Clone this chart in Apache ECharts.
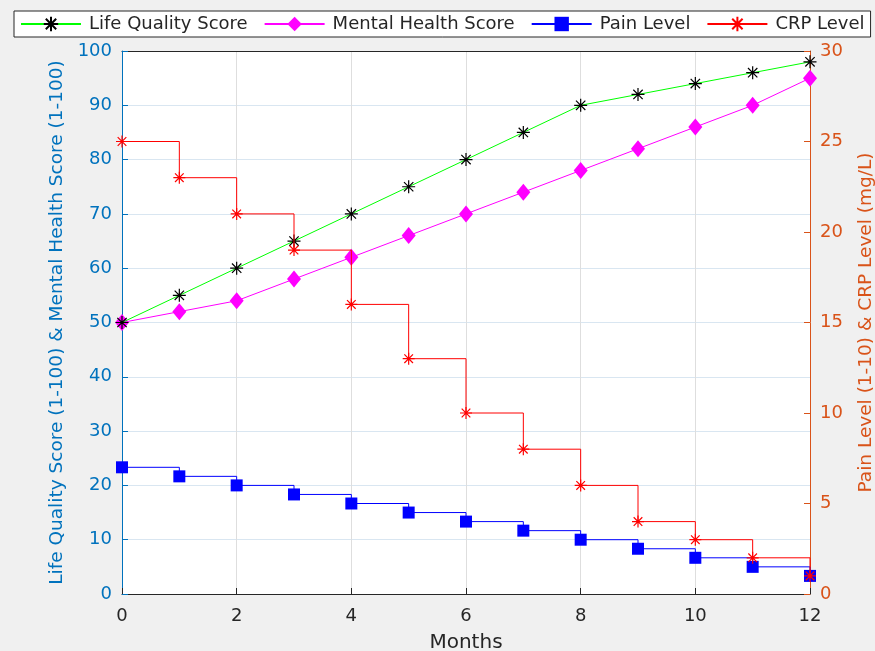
<!DOCTYPE html>
<html>
<head>
<meta charset="utf-8">
<script src="https://cdn.jsdelivr.net/npm/echarts@6/dist/echarts.min.js"></script>
<style>
html,body{margin:0;padding:0;background:#f0f0f0;}
#chart{width:875px;height:651px;}
</style>
</head>
<body>
<div id="chart"></div>
<script>
const months = [0,1,2,3,4,5,6,7,8,9,10,11,12];
const lifeQuality = [50,55,60,65,70,75,80,85,90,92,94,96,98];
const mentalHealth = [50,52,54,58,62,66,70,74,78,82,86,90,95];
const painLevel = [7,6.5,6,5.5,5,4.5,4,3.5,3,2.5,2,1.5,1];
const crpLevel = [25,23,21,19,16,13,10,8,6,4,3,2,1];
const xTicks = {min:0, max:12, interval:2};
const leftTicks = {min:0, max:100, interval:10};
const rightTicks = {min:0, max:30, interval:5};

const pair = arr => months.map((m,i)=>[m, arr[i]]);
const FONT = '"DejaVu Sans", sans-serif';
const star = 'path://M0,-10L0,10M-10,0L10,0M-7.2,-7.2L7.2,7.2M-7.2,7.2L7.2,-7.2';

const chart = echarts.init(document.getElementById('chart'), null, {renderer:'canvas'});
chart.setOption({
  backgroundColor:'#f0f0f0',
  animation:false,
  textStyle:{fontFamily:FONT},
  grid:{left:122,right:65,top:51,bottom:57,show:true,backgroundColor:'#ffffff',borderWidth:0,containLabel:false,outerBoundsMode:'none'},
  legend:{
    left:14, top:11, orient:'horizontal',
    backgroundColor:'#ffffff', borderColor:'#262626', borderWidth:1,
    padding:[4,6,4,6], itemGap:16, itemWidth:60, itemHeight:18,
    textStyle:{fontFamily:FONT, fontSize:18, color:'#262626', padding:[0,0,0,3]},
    data:['Life Quality Score','Mental Health Score','Pain Level','CRP Level']
  },
  xAxis:[{
    type:'value', min:xTicks.min, max:xTicks.max, interval:xTicks.interval,
    name:'Months', nameLocation:'middle', nameGap:39,
    nameTextStyle:{fontFamily:FONT,fontSize:20,color:'#262626'},
    axisLine:{show:true,onZero:false,lineStyle:{color:'#262626',width:1}},
    axisTick:{show:true,inside:true,length:6,lineStyle:{color:'#262626'}},
    axisLabel:{fontFamily:FONT,fontSize:18,color:'#262626',margin:13},
    splitLine:{show:true,lineStyle:{color:'#dedede',width:1}}
  },{
    type:'value', position:'top', min:xTicks.min, max:xTicks.max, interval:xTicks.interval,
    axisLine:{show:true,onZero:false,lineStyle:{color:'#262626',width:1}},
    axisTick:{show:false}, axisLabel:{show:false}, splitLine:{show:false}
  }],
  yAxis:[{
    type:'value', position:'left', min:leftTicks.min, max:leftTicks.max, interval:leftTicks.interval,
    name:'Life Quality Score (1-100) & Mental Health Score (1-100)',
    nameLocation:'middle', nameGap:54, nameRotate:90,
    nameTextStyle:{fontFamily:FONT,fontSize:18.5,color:'#0072BD'},
    axisLine:{show:true,onZero:false,lineStyle:{color:'#0072BD',width:1}},
    axisTick:{show:true,inside:true,length:6,lineStyle:{color:'#0072BD'}},
    axisLabel:{fontFamily:FONT,fontSize:18,color:'#0072BD',margin:10},
    splitLine:{show:true,lineStyle:{color:'#d9e6f1',width:1}}
  },{
    type:'value', position:'right', min:rightTicks.min, max:rightTicks.max, interval:rightTicks.interval,
    name:'Pain Level (1-10) & CRP Level (mg/L)',
    nameLocation:'middle', nameGap:47, nameRotate:90,
    nameTextStyle:{fontFamily:FONT,fontSize:18.5,color:'#D95319'},
    axisLine:{show:true,onZero:false,lineStyle:{color:'#D95319',width:1}},
    axisTick:{show:true,inside:true,length:6,lineStyle:{color:'#D95319'}},
    axisLabel:{fontFamily:FONT,fontSize:18,color:'#D95319',margin:10},
    splitLine:{show:false}
  }],
  series:[{
    name:'Life Quality Score', type:'line', yAxisIndex:0, clip:false,
    data:pair(lifeQuality),
    symbol:star, symbolSize:13,
    lineStyle:{color:'#00ff00',width:1},
    itemStyle:{color:'#000000',borderColor:'#000000',borderWidth:1.2},
    z:3
  },{
    name:'Mental Health Score', type:'line', yAxisIndex:0, clip:false,
    data:pair(mentalHealth),
    symbol:'diamond', symbolSize:[14,17],
    lineStyle:{color:'#ff00ff',width:1},
    itemStyle:{color:'#ff00ff',borderColor:'#ff00ff',borderWidth:0},
    z:2
  },{
    name:'Pain Level', type:'line', yAxisIndex:1, step:'end', clip:false,
    data:pair(painLevel),
    symbol:'rect', symbolSize:12,
    lineStyle:{color:'#0000ff',width:1},
    itemStyle:{color:'#0000ff',borderColor:'#0000ff',borderWidth:0},
    z:4
  },{
    name:'CRP Level', type:'line', yAxisIndex:1, step:'end', clip:false,
    data:pair(crpLevel),
    symbol:star, symbolSize:12,
    lineStyle:{color:'#ff0000',width:1},
    itemStyle:{color:'#ff0000',borderColor:'#ff0000',borderWidth:1.2},
    z:5
  }]
});
</script>
</body>
</html>
